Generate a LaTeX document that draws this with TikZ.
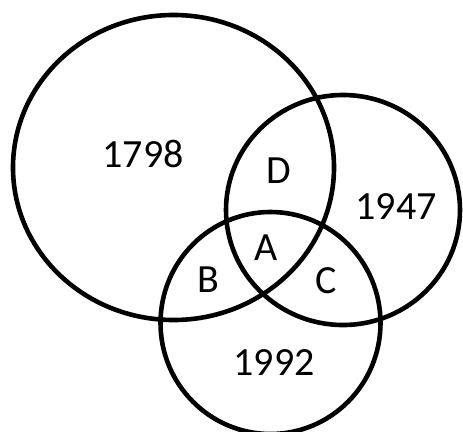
\documentclass[tikz,border=0pt]{standalone}
\usepackage{fontspec}
\setmainfont{Carlito}
\begin{document}
\begin{tikzpicture}[x=1pt,y=-1pt,
  ring/.style={draw=black,line width=4.6pt},
  lbl/.style={anchor=base,inner sep=0pt,font=\fontsize{40}{44}\selectfont,text=black}]
\useasboundingbox (0,0) rectangle (463,431);
\draw[ring] (173.5,167.5) ellipse [x radius=160.5, y radius=152.5];
\draw[ring] (343,210) ellipse [x radius=117, y radius=115];
\draw[ring] (270.5,323) ellipse [x radius=110, y radius=111];
\node[lbl] (n1798) at (143,167) {1798};
\node[lbl] (nD) at (279,183) {D};
\node[lbl] (n1947) at (396,219) {1947};
\node[lbl] (nA) at (266,260) {A};
\node[lbl] (nB) at (208,292) {B};
\node[lbl] (nC) at (326,293) {C};
\node[lbl] (n1992) at (274,375) {1992};
\end{tikzpicture}
\end{document}
